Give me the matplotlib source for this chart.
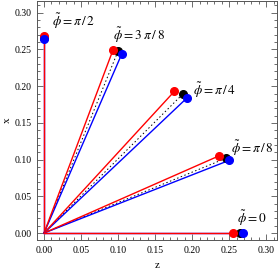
import matplotlib
matplotlib.use("Agg")
import matplotlib.pyplot as plt
from matplotlib.ticker import MultipleLocator

plt.rcParams['font.family'] = ['Liberation Serif', 'DejaVu Serif']
plt.rcParams['mathtext.fontset'] = 'stix'

# end points (z, x) of each ray, one per phi
labels = [r'$\tilde{\phi}=\pi\,/\,2$', r'$\tilde{\phi}=3\;\pi\,/\,8$', r'$\tilde{\phi}=\pi\,/\,4$',
          r'$\tilde{\phi}=\pi\,/\,8$', r'$\tilde{\phi}=0$']
red_z = [0.0, 0.093, 0.176, 0.236, 0.255]
red_x = [0.268, 0.249, 0.193, 0.105, 0.0]
black_z = [0.0, 0.100, 0.187, 0.246, 0.264]
black_x = [0.266, 0.248, 0.189, 0.102, 0.0]
blue_z = [0.0, 0.105, 0.193, 0.250, 0.268]
blue_x = [0.264, 0.244, 0.184, 0.099, 0.0]
label_z = [0.011, 0.093, 0.201, 0.253, 0.261]
label_x = [0.289, 0.269, 0.195, 0.116, 0.020]

fig = plt.figure(figsize=(2.78, 2.71), dpi=100)
ax = fig.add_axes([37 / 278, 31 / 271, 240 / 278, 239 / 271])

for i in range(len(labels)):
    ax.plot([0, black_z[i]], [0, black_x[i]], color='black', lw=0.7, ls=(0, (1.5, 2.5)))
    ax.plot([0, blue_z[i]], [0, blue_x[i]], color='blue', lw=1.0)
    ax.plot([0, red_z[i]], [0, red_x[i]], color='red', lw=1.0)
for i in range(len(labels)):
    ax.plot(black_z[i], black_x[i], 'o', color='black', ms=5.5, zorder=5)
    ax.plot(blue_z[i], blue_x[i], 'o', color='blue', ms=5.5, zorder=6)
    ax.plot(red_z[i], red_x[i], 'o', color='red', ms=5.5, zorder=5)
    ax.text(label_z[i], label_x[i], labels[i], fontsize=9.5, va='center', ha='left')

ax.set_xlim(-0.0095, 0.3145)
ax.set_ylim(-0.0095, 0.316)
ax.xaxis.set_major_locator(MultipleLocator(0.05))
ax.yaxis.set_major_locator(MultipleLocator(0.05))
ax.xaxis.set_minor_locator(MultipleLocator(0.01))
ax.yaxis.set_minor_locator(MultipleLocator(0.01))
ax.xaxis.set_major_formatter(lambda v, p: f'{v:.2f}')
ax.yaxis.set_major_formatter(lambda v, p: f'{v:.2f}')
ax.tick_params(which='both', direction='in', top=True, right=True, labelsize=7,
               color='#555555', width=0.6)
ax.tick_params(which='major', length=4, pad=4)
ax.tick_params(which='minor', length=2)
for s in ax.spines.values():
    s.set_color('#555555')
    s.set_linewidth(0.7)
ax.set_xlabel('z', fontsize=8, labelpad=5)
ax.set_ylabel('x', fontsize=8, labelpad=2)

fig.savefig('out.png', dpi=100)
